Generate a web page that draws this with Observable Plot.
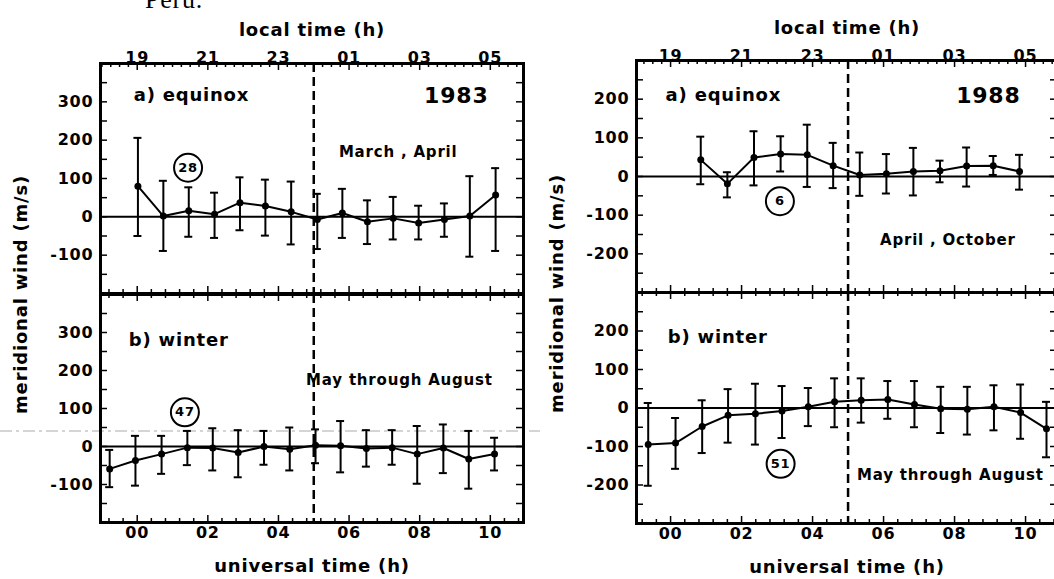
<!DOCTYPE html>
<html><head><meta charset="utf-8">
<script src="https://cdn.jsdelivr.net/npm/d3@7"></script>
<script src="https://cdn.jsdelivr.net/npm/@observablehq/plot@0.6"></script>
<style>
body{margin:0;background:#fff;}
#fig{position:relative;width:1054px;height:579px;overflow:hidden;background:#fff;}
#fig svg{position:absolute;left:0;top:0;max-width:none !important;}
#fig svg text{letter-spacing:0.8px;}
#fig g[aria-label="title"] text{word-spacing:5px;}
#fig g[aria-label="ytitle"] text{word-spacing:7px;letter-spacing:1px;}
</style></head><body><div id="fig">
<svg width="1054" height="579" style="position:absolute;left:0;top:0">
<text x="145" y="8" font-family="Liberation Serif" font-size="26">Peru.</text>
<line x1="0" x2="540" y1="431" y2="431" stroke="#aaa" stroke-width="1" stroke-dasharray="12,4,3,4"/>
</svg>
</div>
<script>
// ---------- tick labels ----------
const labelTicks = [0, 2, 4, 6, 8, 10];              // universal time (h)
const utLabels = ["00", "02", "04", "06", "08", "10"];
const ltLabels = ["19", "21", "23", "01", "03", "05"];  // local time labels
const yLabels83 = [300, 200, 100, 0, -100];
const yLabels88 = [200, 100, 0, -100, -200];
const MIDNIGHT_UT = 5;

// ---------- 1983 equinox (March, April) ----------
const eq83_t  = [0.02, 0.74, 1.46, 2.19, 2.91, 3.63, 4.36, 5.10, 5.81, 6.52, 7.25, 7.97, 8.70, 9.42, 10.15];
const eq83_v  = [80, 2, 16, 7, 37, 28, 13, -7, 10, -13, -4, -16, -7, 2, 57];
const eq83_hi = [206, 94, 77, 63, 103, 97, 92, 60, 73, 43, 52, 29, 35, 106, 127];
const eq83_lo = [-50, -89, -52, -55, -35, -49, -72, -84, -55, -71, -59, -59, -52, -104, -89];

// ---------- 1983 winter (May through August) ----------
const win83_t  = [-0.78, -0.05, 0.69, 1.42, 2.14, 2.86, 3.59, 4.32, 5.05, 5.76, 6.49, 7.22, 7.93, 8.67, 9.39, 10.12];
const win83_v  = [-59, -37, -20, -3, -4, -16, 0, -7, 3, 2, -5, -3, -20, -4, -33, -20];
const win83_hi = [-9, 28, 28, 41, 48, 43, 41, 50, 45, 67, 43, 43, 54, 58, 41, 23];
const win83_lo = [-107, -103, -72, -49, -63, -81, -48, -63, -44, -68, -53, -48, -98, -70, -111, -63];

// ---------- 1988 equinox (April, October) ----------
const eq88_t  = [0.85, 1.60, 2.35, 3.10, 3.85, 4.58, 5.33, 6.08, 6.84, 7.59, 8.34, 9.09, 9.83];
const eq88_v  = [43, -19, 49, 58, 56, 28, 4, 7, 13, 15, 27, 28, 13];
const eq88_hi = [103, 11, 117, 104, 134, 87, 62, 58, 74, 41, 75, 53, 56];
const eq88_lo = [-20, -54, -23, 13, -27, -30, -50, -44, -49, -15, -26, 4, -34];

// ---------- 1988 winter (May through August) ----------
const win88_t  = [-0.63, 0.14, 0.89, 1.62, 2.39, 3.14, 3.88, 4.62, 5.37, 6.12, 6.87, 7.61, 8.36, 9.11, 9.86, 10.59];
const win88_v  = [-95, -91, -48, -19, -15, -8, 3, 16, 20, 22, 9, -2, -3, 3, -12, -54];
const win88_hi = [13, -26, 20, 49, 63, 57, 52, 77, 77, 70, 70, 55, 55, 59, 61, 16];
const win88_lo = [-202, -158, -117, -90, -95, -78, -47, -50, -38, -28, -50, -65, -69, -58, -80, -128];

const FONT = "DejaVu Sans";

function panel(cfg) {
  const W = 1070, H = 579;
  const {left, right, top, bottom, xDomain, yDomain, t, v, hi, lo, yLabels,
         topLabels, bottomLabels, notes, circle, yTitle, topTitle, topDy} = cfg;
  const [x0, x1] = xDomain, [y0, y1] = yDomain;
  const kx = (x1 - x0) / (right - left);
  const ky = (y1 - y0) / (bottom - top);
  const data = t.map((x, i) => ({x, v: v[i], hi: hi[i], lo: lo[i]}));
  const inX = d => d >= x0 && d <= x1;
  const isMajor = d => Math.abs(d / 2 - Math.round(d / 2)) < 1e-6;
  const utTicks = d3.range(-5, 30).map(i => +(i * 0.4).toFixed(3)).filter(inX);
  const ltTicks = d3.range(-8, 48).map(i => i * 0.25).filter(inX);
  const yTicks = d3.range(y0 + 50, y1, 50);
  const topTicks = topLabels ? ltTicks : utTicks;
  const marks = [
    Plot.ruleY([0], {strokeWidth: 2}),
    Plot.ruleX([MIDNIGHT_UT], {strokeWidth: 2.5, strokeDasharray: "9,5"}),
    Plot.ruleX(utTicks, {x: d => d, y1: y0, y2: d => y0 + (isMajor(d) ? 7 : 4) * ky, strokeWidth: 1.5}),
    Plot.ruleX(topTicks, {x: d => d, y1: y1, y2: d => y1 - (isMajor(d) ? 7 : 4) * ky, strokeWidth: 1.5}),
    Plot.ruleY(yTicks, {y: d => d, x1: x0, x2: x0 + 7 * kx, strokeWidth: 1.5}),
    Plot.ruleY(yTicks, {y: d => d, x1: x1, x2: x1 - 7 * kx, strokeWidth: 1.5}),
    Plot.frame({strokeWidth: 3}),
    Plot.ruleX(data, {x: "x", y1: "lo", y2: "hi", strokeWidth: 2}),
    Plot.ruleY(data, {y: "hi", x1: d => d.x - 4 * kx, x2: d => d.x + 4 * kx, strokeWidth: 2}),
    Plot.ruleY(data, {y: "lo", x1: d => d.x - 4 * kx, x2: d => d.x + 4 * kx, strokeWidth: 2}),
    Plot.line(data, {x: "x", y: "v", strokeWidth: 2}),
    Plot.dot(data, {x: "x", y: "v", r: 3.5, fill: "black"}),
    Plot.text(yLabels, {y: d => d, text: d => String(d), frameAnchor: "left", textAnchor: "end",
      dx: -7, fontSize: 16, fontWeight: "bold"})
  ];
  if (topLabels) {
    marks.push(Plot.text(labelTicks, {x: d => d, text: (d, i) => topLabels[i], frameAnchor: "top",
      dy: topDy, fontSize: 16, fontWeight: "bold"}));
    marks.push(Plot.text([topTitle], {text: d => d, frameAnchor: "top", dy: topDy - 28,
      fontSize: 18, fontWeight: "bold", ariaLabel: "title"}));
  }
  if (bottomLabels) {
    marks.push(Plot.text(labelTicks, {x: d => d, text: (d, i) => bottomLabels[i], frameAnchor: "bottom",
      dy: 15, fontSize: 16, fontWeight: "bold"}));
    marks.push(Plot.text(["universal time (h)"], {text: d => d, frameAnchor: "bottom", dy: 49,
      fontSize: 18, fontWeight: "bold", ariaLabel: "title"}));
  }
  if (yTitle) {
    marks.push(Plot.text(["meridional wind (m/s)"], {text: d => d, frameAnchor: "bottom-left",
      textAnchor: "middle", rotate: -90, dx: -74, dy: 1, fontSize: 18, fontWeight: "bold", ariaLabel: "ytitle"}));
  }
  for (const n of notes) {
    marks.push(Plot.text([n], {x: "x", y: "y", text: "text", textAnchor: n.anchor,
      fontSize: n.size, fontWeight: "bold"}));
  }
  marks.push(Plot.dot([circle], {x: "x", y: "y", r: 14, stroke: "black", strokeWidth: 2, fill: "white"}));
  marks.push(Plot.text([circle], {x: "x", y: "y", text: "label", fontSize: 13, fontWeight: "bold"}));

  return Plot.plot({
    width: W, height: H,
    marginLeft: left, marginRight: W - right, marginTop: top, marginBottom: H - bottom,
    x: {domain: xDomain, axis: null},
    y: {domain: yDomain, axis: null},
    style: {background: "transparent", overflow: "visible", maxWidth: "none", fontFamily: FONT, color: "black"},
    marks
  });
}

const fig = document.getElementById("fig");
const LX = [-1.04, 10.94], RX = [-0.96, 10.9];

fig.append(panel({
  left: 100, right: 523, top: 63, bottom: 293, xDomain: LX, yDomain: [-200, 400],
  t: eq83_t, v: eq83_v, hi: eq83_hi, lo: eq83_lo, yLabels: yLabels83,
  topLabels: ltLabels, topTitle: "local time (h)", topDy: -12, yTitle: true,
  notes: [
    {x: -0.10, y: 316, text: "a) equinox", anchor: "start", size: 18},
    {x: 9.95, y: 316, text: "1983", anchor: "end", size: 22},
    {x: 9.07, y: 169, text: "March , April", anchor: "end", size: 15}
  ],
  circle: {x: 1.44, y: 128, label: "28"}
}));
fig.append(panel({
  left: 100, right: 523, top: 294, bottom: 522, xDomain: LX, yDomain: [-200, 400],
  t: win83_t, v: win83_v, hi: win83_hi, lo: win83_lo, yLabels: yLabels83,
  bottomLabels: utLabels,
  notes: [
    {x: -0.24, y: 279, text: "b) winter", anchor: "start", size: 18},
    {x: 10.07, y: 174, text: "May through August", anchor: "end", size: 15}
  ],
  circle: {x: 1.35, y: 90, label: "47"}
}));
fig.append(panel({
  left: 636, right: 1057, top: 60, bottom: 292, xDomain: RX, yDomain: [-300, 300],
  t: eq88_t, v: eq88_v, hi: eq88_hi, lo: eq88_lo, yLabels: yLabels88,
  topLabels: ltLabels, topTitle: "local time (h)", topDy: -11, yTitle: true,
  notes: [
    {x: -0.14, y: 209, text: "a) equinox", anchor: "start", size: 18},
    {x: 9.86, y: 209, text: "1988", anchor: "end", size: 22},
    {x: 9.72, y: -166, text: "April , October", anchor: "end", size: 15}
  ],
  circle: {x: 3.08, y: -64, label: "6"}
}));
fig.append(panel({
  left: 636, right: 1057, top: 292, bottom: 523, xDomain: RX, yDomain: [-300, 300],
  t: win88_t, v: win88_v, hi: win88_hi, lo: win88_lo, yLabels: yLabels88,
  bottomLabels: utLabels,
  notes: [
    {x: -0.08, y: 184, text: "b) winter", anchor: "start", size: 18},
    {x: 10.51, y: -175, text: "May through August", anchor: "end", size: 15}
  ],
  circle: {x: 3.10, y: -145, label: "51"}
}));
</script>
</body></html>
